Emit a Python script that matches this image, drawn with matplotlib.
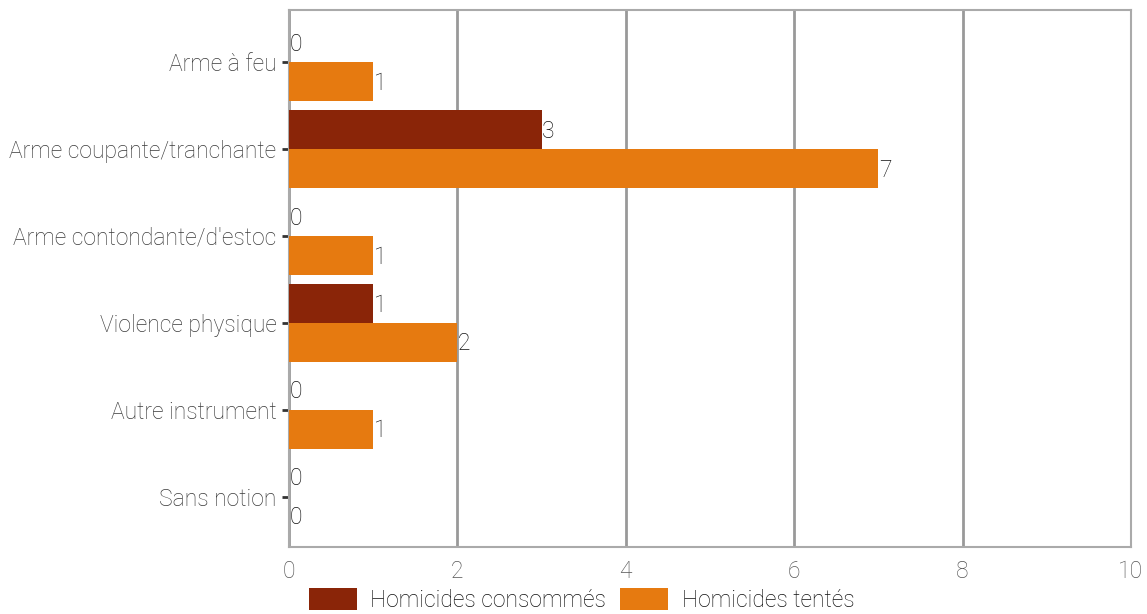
import matplotlib.pyplot as plt
import numpy as np

categories = ["Arme à feu", "Arme coupante/tranchante", "Arme contondante/d'estoc",
              "Violence physique", "Autre instrument", "Sans notion"]
consommes = [0, 3, 0, 1, 0, 0]
tentes = [1, 7, 1, 2, 1, 0]
series_names = ["Homicides consommés", "Homicides tentés"]
xticks = [0, 2, 4, 6, 8, 10]

c_cons = "#8a2508"
c_tent = "#e67a10"

plt.rcParams['font.family'] = ['Roboto', 'DejaVu Sans']
plt.rcParams['font.weight'] = 'light'

fig = plt.figure(figsize=(11.47, 6.14), dpi=100)
ax = fig.add_axes([0.252, 0.109, 0.734, 0.875])

y = np.arange(len(categories))
h = 0.448
b1 = ax.barh(y - h / 2, consommes, height=h, color=c_cons, label=series_names[0], zorder=3)
b2 = ax.barh(y + h / 2, tentes, height=h, color=c_tent, label=series_names[1], zorder=3)

for bars, vals in [(b1, consommes), (b2, tentes)]:
    for bar, v in zip(bars, vals):
        ax.text(v + 0.005, bar.get_y() + bar.get_height() / 2 + 0.02, str(v),
                ha='left', va='center', fontsize=16.5, color="#111111",
                fontweight='light', zorder=4)

ax.set_xlim(0, 10)
ax.set_ylim(len(categories) - 1 + 0.58, -0.6)
ax.set_xticks(xticks)
ax.set_yticks(y)
ax.set_yticklabels(categories)

ax.grid(axis='x', color="#999999", linewidth=2, zorder=0)
for s in ax.spines.values():
    s.set_color("#aaaaaa")
    s.set_linewidth(1.5)

ax.tick_params(axis='x', length=0, labelsize=16.5, labelcolor="#555555", pad=9)
ax.tick_params(axis='y', length=5, width=2, color="#333333", labelsize=16.5,
               labelcolor="#3a3a3a", pad=4)

fig.legend(handles=[b1, b2], loc='lower center', bbox_to_anchor=(0.507, 0.004),
           ncol=2, frameon=False, fontsize=16.5, handlelength=2.1, handleheight=1.1,
           columnspacing=0.6, handletextpad=0.6, labelcolor="#111111",
           borderaxespad=0.0, borderpad=0.0)

fig.savefig("out.png")
